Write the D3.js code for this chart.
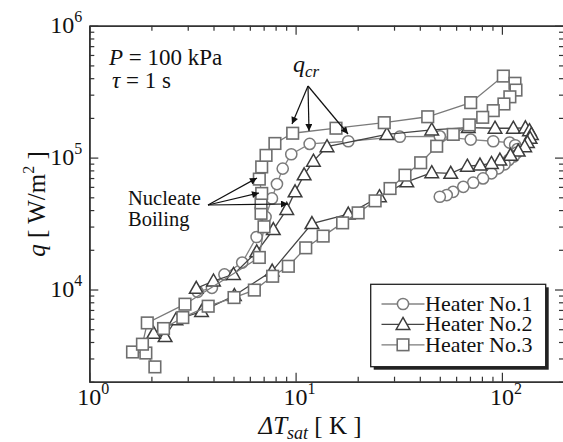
<!DOCTYPE html>
<html><head><meta charset="utf-8">
<script src="https://cdn.jsdelivr.net/npm/d3@7"></script>
</head>
<body style="margin:0"><svg id="chart" width="563" height="442" style="font-family: 'Liberation Serif', serif; background:#fff"></svg>
<script>
// ---- data ----
const seriesNames = ["Heater No.1", "Heater No.2", "Heater No.3"];
const T1 = [3.35,3.93,4.52,5.51,6.47,7.15,7.68,8.12,8.66,9.53,11.7,18,32,50,70.6,90.8,109,116,119,118,114,108,103,96,89,81,72.6,65,58,54,50];
const q1 = [9.6e3,1.03e4,1.3e4,1.6e4,2.5e4,3.55e4,4.9e4,6.3e4,8.25e4,1.06e5,1.27e5,1.33e5,1.44e5,1.45e5,1.37e5,1.33e5,1.30e5,1.24e5,1.16e5,1.09e5,1.02e5,9.6e4,8.9e4,8.3e4,7.6e4,6.95e4,6.45e4,6.0e4,5.5e4,5.2e4,5.05e4];
const T2 = [3.3,4.0,5.0,6.48,7.8,9.06,9.94,11.0,12.2,14.2,27.7,45.7,68.7,92.6,113.6,130,136,139,137,133,129,120,110,97.8,89,78.3,68,56.5,45.7,34.6,25.5,18.0,12.0,7.7,5.05,3.5,2.63,2.33,2.05];
const q2 = [1.02e4,1.16e4,1.3e4,1.93e4,2.85e4,4.05e4,5.5e4,7.4e4,9.4e4,1.21e5,1.5e5,1.62e5,1.69e5,1.67e5,1.67e5,1.68e5,1.6e5,1.5e5,1.4e5,1.3e5,1.21e5,1.12e5,1.04e5,9.57e4,9.03e4,8.77e4,8.6e4,7.6e4,7.68e4,6.55e4,5.05e4,3.73e4,3.16e4,1.38e4,9.0e3,6.8e3,5.9e3,4.4e3,4.65e3];
const T3 = [2.08,1.88,1.62,1.81,1.91,2.91,6.67,7.03,6.8,6.8,6.85,6.67,6.85,7.19,7.94,9.68,15.7,26.9,43.7,70.6,101.6,115.7,117,109.3,102.3,90.8,80.7,69.5,58.1,48.3,40.4,33.9,28.7,24.3,20.1,16.9,13.6,11.2,9.22,7.74,6.31,5.03,3.77,2.84,2.29];
const q3 = [2.59e3,3.3e3,3.36e3,3.85e3,5.58e3,7.74e3,1.75e4,2.99e4,3.78e4,4.54e4,5.35e4,6.87e4,8.5e4,1.04e5,1.28e5,1.53e5,1.67e5,1.84e5,2.04e5,2.61e5,4.15e5,3.66e5,3.25e5,2.89e5,2.55e5,2.27e5,2.02e5,1.77e5,1.50e5,1.22e5,9.14e4,7.36e4,5.83e4,4.70e4,3.81e4,3.20e4,2.54e4,2.07e4,1.50e4,1.26e4,9.9e3,8.69e3,7.47e3,6.13e3,5.06e3];
const xMajor = [1, 10, 100];
const yMajor = [1e4, 1e5, 1e6];
const xLabelExp = ["0", "1", "2"];
const yLabelExp = ["4", "5", "6"];
const xDomain = [1, 200];
const yDomain = [2000, 1e6];

// ---- layout ----
const svg = d3.select("#chart");
const L = 89.3, R = 564, T = 25.7, B = 381.7;
const x = d3.scaleLog().domain(xDomain).range([L, R]);
const y = d3.scaleLog().domain(yDomain).range([B, T]);
const axisCol = "#333";

const xMinor = [];
for (const d of [1, 10, 100]) for (let k = 2; k <= 9; k++) if (d * k <= 200) xMinor.push(d * k);
const yMinor = [];
for (const d of [1000, 1e4, 1e5]) for (let k = 2; k <= 9; k++) if (d * k >= 2000) yMinor.push(d * k);

const gAx = svg.append("g");
function drawAxis(axisGen, transform, vals, len) {
  const g = gAx.append("g").attr("transform", transform)
    .call(axisGen.tickValues(vals).tickSizeInner(len).tickSizeOuter(0).tickFormat(""));
  g.attr("font-family", null).attr("font-size", null);
  g.select(".domain").attr("stroke", axisCol).attr("stroke-width", 1.6);
  g.selectAll(".tick line").attr("stroke", axisCol).attr("stroke-width", 1.2);
  return g;
}
drawAxis(d3.axisBottom(x), `translate(0,${B})`, xMajor, -9);
drawAxis(d3.axisBottom(x), `translate(0,${B})`, xMinor, -5);
drawAxis(d3.axisTop(x), `translate(0,${T})`, xMajor, -9);
drawAxis(d3.axisTop(x), `translate(0,${T})`, xMinor, -5);
drawAxis(d3.axisLeft(y), `translate(${L},0)`, yMajor, -9);
drawAxis(d3.axisLeft(y), `translate(${L},0)`, yMinor, -5);
drawAxis(d3.axisRight(y), `translate(${R},0)`, yMajor, -9);
drawAxis(d3.axisRight(y), `translate(${R},0)`, yMinor, -5);

function txt(sel, size) {
  return sel.append("text").style("font-family", "Liberation Serif").style("font-size", size + "px").attr("fill", "#111");
}

xMajor.forEach((v, i) => {
  const t = txt(svg, 24).attr("x", x(v) - 12).attr("y", B + 23.5);
  t.append("tspan").text("10");
  t.append("tspan").attr("dy", -11).style("font-size", "16px").text(xLabelExp[i]);
});
yMajor.forEach((v, i) => {
  const t = txt(svg, 24).attr("x", L - 7).attr("y", y(v) + 7).attr("text-anchor", "end");
  t.append("tspan").text("10");
  t.append("tspan").attr("dy", -11).style("font-size", "16px").text(yLabelExp[i]);
});

const xt = txt(svg, 25).attr("x", 310).attr("y", 434).attr("text-anchor", "middle");
xt.append("tspan").style("font-style", "italic").text("ΔT");
xt.append("tspan").style("font-style", "italic").style("font-size", "18px").attr("dy", 5).text("sat");
xt.append("tspan").attr("dy", -5).text(" [ K ]");

const yt = txt(svg, 25).attr("transform", `translate(45,204) rotate(-90)`).attr("text-anchor", "middle");
yt.append("tspan").style("font-style", "italic").text("q");
yt.append("tspan").text("  [ W/m");
yt.append("tspan").attr("dy", -11).style("font-size", "16px").text("2");
yt.append("tspan").attr("dy", 11).text(" ]");

// ---- series ----
const styles = [
  {T: T1, q: q1, shape: "circle", stroke: "#7a7a7a", line: "#858585"},
  {T: T2, q: q2, shape: "triangle", stroke: "#3c3c3c", line: "#444"},
  {T: T3, q: q3, shape: "square", stroke: "#6e6e6e", line: "#7a7a7a"}
];
const gPlot = svg.append("g");
const line = d3.line().x(d => x(d[0])).y(d => y(d[1]));
function marker(g, shape, cx, cy, stroke) {
  if (shape === "circle") {
    g.append("circle").attr("cx", cx).attr("cy", cy).attr("r", 5.6)
      .attr("fill", "#fff").attr("stroke", stroke).attr("stroke-width", 1.5);
  } else if (shape === "square") {
    g.append("rect").attr("x", cx - 5.8).attr("y", cy - 5.8).attr("width", 11.6).attr("height", 11.6)
      .attr("fill", "#fff").attr("stroke", stroke).attr("stroke-width", 1.6);
  } else {
    g.append("path").attr("d", `M${cx},${cy - 7} L${cx + 6.8},${cy + 5} L${cx - 6.8},${cy + 5} Z`)
      .attr("fill", "#fff").attr("stroke", stroke).attr("stroke-width", 1.5);
  }
}
styles.forEach(s => {
  const pts = s.T.map((t, i) => [t, s.q[i]]);
  gPlot.append("path").attr("d", line(pts)).attr("fill", "none").attr("stroke", s.line).attr("stroke-width", 1.3);
  pts.forEach(p => marker(gPlot, s.shape, x(p[0]), y(p[1]), s.stroke));
});

// ---- annotations ----
const defs = svg.append("defs");
defs.append("marker").attr("id", "ah").attr("viewBox", "0 0 10 10").attr("refX", 10).attr("refY", 5)
  .attr("markerWidth", 13).attr("markerHeight", 7).attr("markerUnits", "userSpaceOnUse").attr("orient", "auto")
  .append("path").attr("d", "M0,0 L10,5 L0,10 Z").attr("fill", "#111");
function arrow(x1, y1, x2, y2) {
  svg.append("line").attr("x1", x1).attr("y1", y1).attr("x2", x2).attr("y2", y2)
    .attr("stroke", "#111").attr("stroke-width", 1.2).attr("marker-end", "url(#ah)");
}
const p1 = txt(svg, 23).attr("x", 109).attr("y", 65);
p1.append("tspan").style("font-style", "italic").text("P");
p1.append("tspan").text(" = 100 kPa");
const p2 = txt(svg, 23).attr("x", 112).attr("y", 88);
p2.append("tspan").style("font-style", "italic").text("τ");
p2.append("tspan").text(" = 1 s");

const qc = txt(svg, 24).attr("x", 293).attr("y", 72).style("font-style", "italic");
qc.append("tspan").text("q");
qc.append("tspan").style("font-size", "17px").attr("dy", 5).text("cr");
arrow(308, 86, 292, 124);
arrow(308, 86, 309, 131);
arrow(308, 86, 348, 134);

txt(svg, 20.5).attr("x", 128).attr("y", 205).text("Nucleate");
txt(svg, 20.5).attr("x", 128).attr("y", 226).text("Boiling");
arrow(208, 205, 257, 178);
arrow(208, 205, 259, 193);
arrow(208, 205, 288, 204);

// ---- legend ----
const lg = svg.append("g");
const lx = 370.7, ly = 284.3, lw = 175, lh = 82.4;
lg.append("rect").attr("x", lx + 3).attr("y", ly + 3).attr("width", lw).attr("height", lh).attr("fill", "#222");
lg.append("rect").attr("x", lx).attr("y", ly).attr("width", lw).attr("height", lh).attr("fill", "#fff")
  .attr("stroke", "#222").attr("stroke-width", 1.3);
seriesNames.forEach((n, i) => {
  const by = 311 + i * 20.4;
  const cy = by - 7;
  lg.append("line").attr("x1", 381.5).attr("x2", 424.5).attr("y1", cy).attr("y2", cy)
    .attr("stroke", styles[i].line).attr("stroke-width", 1.3);
  marker(lg, styles[i].shape, 403, cy, styles[i].stroke);
  txt(lg, 22).attr("x", 425).attr("y", by).text(n);
});
</script></body></html>
